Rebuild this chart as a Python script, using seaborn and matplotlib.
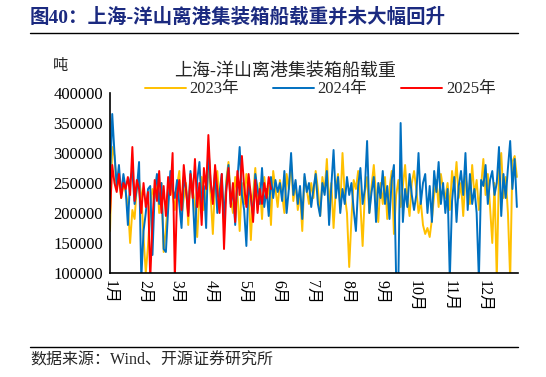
import numpy as np
import pandas as pd
import matplotlib
matplotlib.use('Agg')
import matplotlib.pyplot as plt
from matplotlib.lines import Line2D
import seaborn as sns

# 上海-洋山离港集装箱船载重（千吨），每两天取一个读数
y2023 = [170, 310, 295, 240, 260, 225, 250, 235, 215, 150, 205, 190, 245, 255, 230, 160,
         100, 145, 210, 240, 225, 260, 200, 250, 135, 175, 220, 255, 230, 205,
         245, 270, 195, 225, 250, 180, 265, 240, 215, 160, 230, 260, 205, 245, 275,
         230, 165, 250, 270, 215, 240, 180, 255, 285, 225, 200, 260, 235, 170, 250,
         215, 265, 240, 155, 230, 275, 205, 250, 190, 260, 225, 245, 180, 270, 240, 210,
         255, 230, 200, 265, 240, 285, 220, 250, 205, 235, 170, 260, 240, 215, 250,
         225, 270, 240, 195, 260, 235, 290, 215, 250, 175, 240, 265, 210, 300, 230,
         200, 110, 190, 255, 240, 270, 215, 145, 235, 260, 200, 245, 280, 230, 185, 250,
         215, 260, 190, 240, 270, 165, 230, 255, 210, 245, 280, 225, 195, 250, 270,
         240, 200, 220, 180, 165, 175, 160, 190, 230, 255, 210, 265, 240, 225, 250,
         205, 270, 240, 285, 225, 250, 195, 260, 240, 215, 280, 230, 255, 205, 245,
         290, 230, 265, 210, 150, 250, 90, 270, 300, 225, 260, 200, 90, 285, 295, 260]
y2024 = [250, 365, 300, 245, 280, 230, 265, 240, 180, 255, 270, 215, 240, 285, 90, 170,
         200, 240, 245, 130, 235, 265, 215, 250, 140, 135, 205, 270, 240, 225,
         255, 215, 175, 260, 240, 200, 270, 230, 150, 255, 285, 215, 245, 175, 310,
         250, 220, 270, 200, 235, 265, 190, 245, 280, 215, 240, 180, 255, 310, 230,
         205, 145, 250, 225, 195, 265, 240, 215, 275, 210, 240, 195, 260, 225, 255, 235,
         250, 220, 270, 200, 240, 300, 230, 255, 215, 245, 190, 265, 235, 250, 210,
         240, 265, 215, 195, 250, 230, 270, 180, 245, 305, 225, 260, 200, 240, 215,
         260, 230, 250, 205, 170, 245, 275, 215, 240, 320, 200, 235, 260, 185, 250, 225,
         270, 215, 245, 190, 255, 280, 90, 90, 350, 185, 240, 210, 265, 230, 205,
         230, 300, 215, 250, 265, 200, 245, 185, 270, 235, 285, 215, 250, 200, 240,
         90, 220, 260, 185, 245, 270, 230, 300, 205, 265, 215, 240, 200, 90, 255,
         245, 280, 215, 255, 270, 230, 250, 310, 195, 265, 225, 275, 320, 240, 290, 210]
y2025 = [200, 280, 250, 235, 265, 225, 250, 240, 260, 230, 310, 220, 255, 240, 200, 250,
         210, 235, 90, 185, 255, 220, 270, 200, 245, 195, 260, 230, 300, 90,
         230, 255, 205, 280, 240, 195, 265, 225, 290, 210, 250, 180, 275, 240, 330,
         255, 215, 280, 240, 200, 265, 140, 235, 275, 210, 250, 185, 270, 230, 295,
         245, 210, 265, 230, 185, 255, 200, 240, 215, 250, 225, 260, 240]

years = ['2023年', '2024年', '2025年']
colors = ['#FFC000', '#0070C0', '#FF0000']
month_days = [1, 32, 60, 91, 121, 152, 182, 213, 244, 274, 305, 335]
month_labels = ['1月', '2月', '3月', '4月', '5月', '6月', '7月', '8月', '9月', '10月', '11月', '12月']

frames = []
for name, vals in zip(years, [y2023, y2024, y2025]):
    day = np.arange(1, 2 * len(vals), 2)
    frames.append(pd.DataFrame({'day': day, 'val': np.array(vals) * 1000, 'year': name}))
df = pd.concat(frames)

sns.set_style('white')
plt.rcParams['font.family'] = ['Liberation Serif', 'Noto Sans CJK SC']

fig = plt.figure(figsize=(5.46, 3.77), dpi=100)
ax = fig.add_axes([110 / 546, 1 - 273 / 377, 408 / 546, 180 / 377])
sns.lineplot(data=df, x='day', y='val', hue='year', hue_order=years,
             palette=colors, linewidth=1.4, ax=ax)

ax.set_xlim(1, 366)
ax.set_ylim(100000, 400000)
ax.set_yticks(range(100000, 400001, 50000))
ax.set_yticklabels([str(v) for v in range(100000, 400001, 50000)], fontsize=12)
ax.set_xticks(month_days)
ax.set_xticklabels(month_labels, rotation=-90, fontsize=11.5)
ax.set_xlabel('')
ax.set_ylabel('')
ax.tick_params(direction='in', length=5, width=1, colors='black', pad=5)
for s in ['top', 'right']:
    ax.spines[s].set_visible(False)
for s in ['left', 'bottom']:
    ax.spines[s].set_color('black')
    ax.spines[s].set_linewidth(1.2)

h, l = ax.get_legend_handles_labels()
ax.legend(h, l, ncol=3, loc='center', bbox_to_anchor=(0.515, 1.02), frameon=False,
          handlelength=2.5, columnspacing=2.0, handletextpad=0.2, fontsize=12,
          borderaxespad=0)

fig.text(285 / 546, 1 - 71 / 377, '上海-洋山离港集装箱船载重', ha='center', va='center', fontsize=13)
fig.text(60 / 546, 1 - 66 / 377, '吨', ha='center', va='center', fontsize=11)

fig.text(30 / 546, 1 - 17 / 377, '图40：上海-洋山离港集装箱船载重并未大幅回升', ha='left', va='center',
         fontsize=14, fontweight='bold', color='#1B2A80')
fig.add_artist(Line2D([30 / 546, 518 / 546], [1 - 33 / 377, 1 - 33 / 377], color='black', linewidth=1))
fig.add_artist(Line2D([30 / 546, 518 / 546], [1 - 347 / 377, 1 - 347 / 377], color='black', linewidth=1))
fig.text(30 / 546, 1 - 361 / 377, '数据来源：Wind、开源证券研究所', ha='left', va='center', fontsize=11.5)

fig.savefig('out.png', dpi=100)
